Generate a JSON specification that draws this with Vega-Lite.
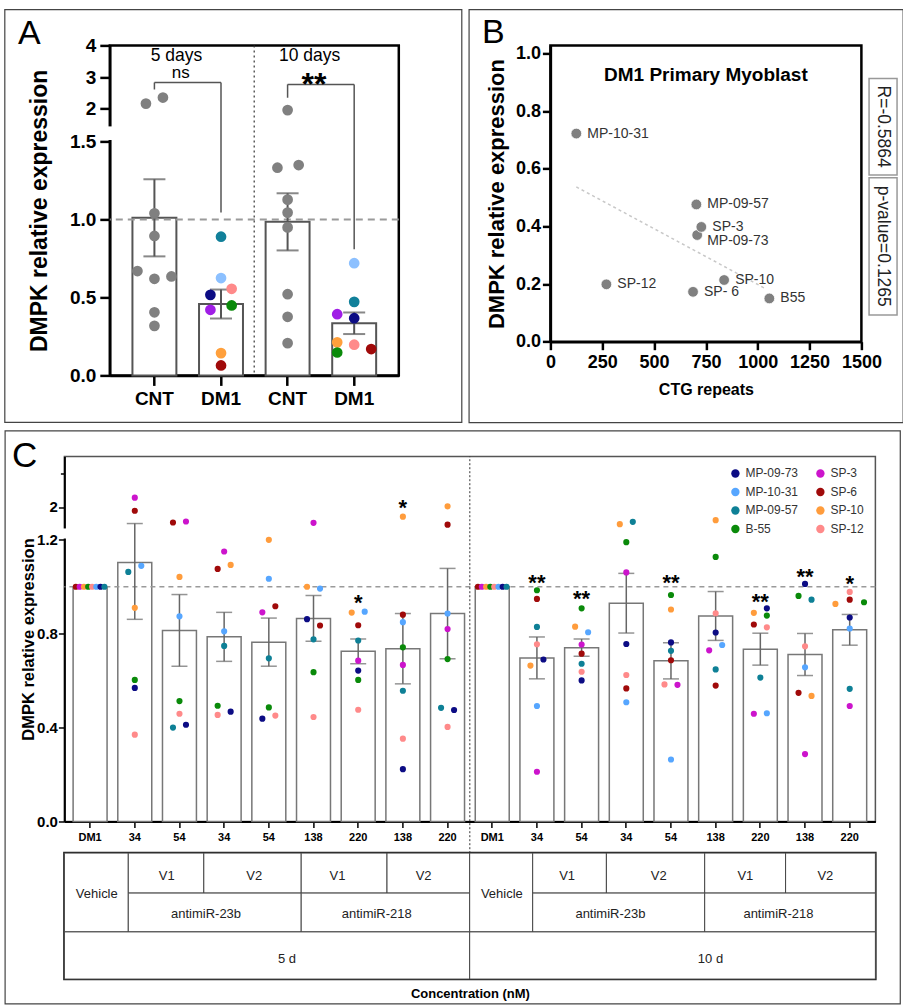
{
  "$schema": "https://vega.github.io/schema/vega-lite/v6.json",
  "background": "white",
  "padding": {"left": 2.4, "top": 7.4, "right": 1, "bottom": 1},
  "config": {
    "font": "Liberation Sans",
    "view": {"stroke": null},
    "axis": {"grid": false, "domainColor": "black", "tickColor": "black", "labelColor": "black", "titleColor": "black", "labelFont": "Liberation Sans", "titleFont": "Liberation Sans"},
    "title": {"font": "Liberation Sans", "fontWeight": "normal", "color": "black"},
    "legend": {"labelFont": "Liberation Sans"}
  },
  "datasets": {
    "aPts": [
      {"grp":"5-CNT","line":"CNT","val":2.165,"col":-1},
      {"grp":"5-CNT","line":"CNT","val":2.355,"col":1},
      {"grp":"5-CNT","line":"CNT","val":1.04,"col":0},
      {"grp":"5-CNT","line":"CNT","val":0.895,"col":0},
      {"grp":"5-CNT","line":"CNT","val":0.67,"col":-2},
      {"grp":"5-CNT","line":"CNT","val":0.62,"col":0},
      {"grp":"5-CNT","line":"CNT","val":0.635,"col":2},
      {"grp":"5-CNT","line":"CNT","val":0.405,"col":0},
      {"grp":"5-CNT","line":"CNT","val":0.318,"col":0},
      {"grp":"5-DM1","line":"MP-09-57","val":0.89,"col":0},
      {"grp":"5-DM1","line":"MP-10-31","val":0.625,"col":0},
      {"grp":"5-DM1","line":"SP-12","val":0.556,"col":1.25},
      {"grp":"5-DM1","line":"MP-09-73","val":0.517,"col":-1.25},
      {"grp":"5-DM1","line":"B-55","val":0.449,"col":1.25},
      {"grp":"5-DM1","line":"SP-3","val":0.421,"col":-1.25},
      {"grp":"5-DM1","line":"SP-10","val":0.143,"col":0},
      {"grp":"5-DM1","line":"SP-6","val":0.064,"col":0},
      {"grp":"10-CNT","line":"CNT","val":1.96,"col":0},
      {"grp":"10-CNT","line":"CNT","val":1.333,"col":-1.2},
      {"grp":"10-CNT","line":"CNT","val":1.35,"col":1.3},
      {"grp":"10-CNT","line":"CNT","val":1.128,"col":0},
      {"grp":"10-CNT","line":"CNT","val":1.045,"col":0},
      {"grp":"10-CNT","line":"CNT","val":0.95,"col":0},
      {"grp":"10-CNT","line":"CNT","val":0.521,"col":0},
      {"grp":"10-CNT","line":"CNT","val":0.376,"col":0},
      {"grp":"10-CNT","line":"CNT","val":0.207,"col":0},
      {"grp":"10-DM1","line":"MP-10-31","val":0.72,"col":0},
      {"grp":"10-DM1","line":"MP-09-57","val":0.472,"col":0},
      {"grp":"10-DM1","line":"SP-3","val":0.393,"col":-2},
      {"grp":"10-DM1","line":"MP-09-73","val":0.367,"col":0},
      {"grp":"10-DM1","line":"SP-10","val":0.212,"col":-2},
      {"grp":"10-DM1","line":"SP-12","val":0.197,"col":0},
      {"grp":"10-DM1","line":"B-55","val":0.147,"col":-2},
      {"grp":"10-DM1","line":"SP-6","val":0.169,"col":2}
    ],
    "aBr": [
      {"bx":"5-CNT","bx2":"5-CNT","by":2.61,"by2":2.83},
      {"bx":"5-CNT","bx2":"5-DM1","by":2.83,"by2":2.83},
      {"bx":"5-DM1","bx2":"5-DM1","by":1.045,"by2":2.83},
      {"bx":"10-CNT","bx2":"10-CNT","by":2.35,"by2":2.77},
      {"bx":"10-CNT","bx2":"10-DM1","by":2.77,"by2":2.77},
      {"bx":"10-DM1","bx2":"10-DM1","by":0.81,"by2":2.77}
    ],
    "aTxt": [
      {"tx":"5-CNT","ty":3.675,"t":"5 days","k":"day"},
      {"tx":"10-CNT","ty":3.675,"t":"10 days","k":"day"},
      {"tx":"5-CNT","ty":3.13,"t":"ns","k":"ns"},
      {"tx":"10-CNT","ty":3.0,"t":"**","k":"star"}
    ],
    "aFrame": [{"fx0": -0.3633, "fx1": 1.218, "fy0": -0.301, "fy1": 5.125}],
    "aGap": [{"gx0": -0.012, "gx1": 0.012, "gy0": 1.50001, "gy1": 1.50009}],
    "bPts": [
      {"cell":"MP-10-31","ctg":125,"expr":0.722,"lbl":"MP-10-31"},
      {"cell":"MP-09-57","ctg":704,"expr":0.476,"lbl":"MP-09-57"},
      {"cell":"MP-09-73","ctg":708,"expr":0.370,"lbl":"MP-09-73"},
      {"cell":"SP-3","ctg":728,"expr":0.398,"lbl":"SP-3"},
      {"cell":"SP-12","ctg":270,"expr":0.199,"lbl":"SP-12"},
      {"cell":"SP-6","ctg":688,"expr":0.173,"lbl":"SP- 6"},
      {"cell":"SP-10","ctg":838,"expr":0.214,"lbl":"SP-10"},
      {"cell":"B-55","ctg":1056,"expr":0.150,"lbl":"B55"}
    ],
    "bFit": [{"fx":125,"fy":0.537},{"fx":1040,"fy":0.183}],
    "bBox": [
      {"bx0":1537,"bx1":1672,"by0":0.578,"by1":0.913,"t":"R=-0.5864","tx":1605,"ty":0.746},
      {"bx0":1537,"bx1":1672,"by0":0.0926,"by1":0.569,"t":"p-value=0.1265","tx":1605,"ty":0.331}
    ],
    "bFrame": [{"x0": -392.2, "x1": 1701.4, "y0": -0.281, "y1": 1.1516}],
    "cFrame": [{"x0": -1.327, "x1": 18.707, "y0": -10.5575, "y1": 3.7675}],
    "cGap": [{"gx0": -0.004, "gx1": 0.004, "gy0": 1.20001, "gy1": 1.20009}],
    "cPts": [
      {"b":"5d DM1","l":"SP-6","v":1,"o":-2.2},{"b":"5d DM1","l":"SP-3","v":1,"o":-1.6},{"b":"5d DM1","l":"SP-10","v":1,"o":-0.95},{"b":"5d DM1","l":"B-55","v":1,"o":-0.3},{"b":"5d DM1","l":"SP-12","v":1,"o":0.3},{"b":"5d DM1","l":"MP-10-31","v":1,"o":0.95},{"b":"5d DM1","l":"MP-09-73","v":1,"o":1.6},{"b":"5d DM1","l":"MP-09-57","v":1,"o":2.2},
      {"b":"5d 23bV1 34","l":"SP-3","v":2.37,"o":0},{"b":"5d 23bV1 34","l":"SP-6","v":1.85,"o":0},{"b":"5d 23bV1 34","l":"MP-10-31","v":1.089,"o":1},{"b":"5d 23bV1 34","l":"MP-09-57","v":1.063,"o":-1},{"b":"5d 23bV1 34","l":"SP-10","v":0.91,"o":0},{"b":"5d 23bV1 34","l":"B-55","v":0.603,"o":0},{"b":"5d 23bV1 34","l":"MP-09-73","v":0.569,"o":0},{"b":"5d 23bV1 34","l":"SP-12","v":0.37,"o":0},
      {"b":"5d 23bV1 54","l":"SP-6","v":1.386,"o":-1},{"b":"5d 23bV1 54","l":"SP-3","v":1.426,"o":1},{"b":"5d 23bV1 54","l":"SP-10","v":1.042,"o":0},{"b":"5d 23bV1 54","l":"MP-10-31","v":0.874,"o":0},{"b":"5d 23bV1 54","l":"B-55","v":0.513,"o":0},{"b":"5d 23bV1 54","l":"SP-12","v":0.459,"o":0},{"b":"5d 23bV1 54","l":"MP-09-57","v":0.40,"o":-1},{"b":"5d 23bV1 54","l":"MP-09-73","v":0.412,"o":1},
      {"b":"5d 23bV2 34","l":"SP-3","v":1.15,"o":0},{"b":"5d 23bV2 34","l":"SP-6","v":1.076,"o":-1},{"b":"5d 23bV2 34","l":"SP-10","v":1.093,"o":1},{"b":"5d 23bV2 34","l":"MP-10-31","v":0.81,"o":0},{"b":"5d 23bV2 34","l":"MP-09-57","v":0.748,"o":0},{"b":"5d 23bV2 34","l":"B-55","v":0.493,"o":-1},{"b":"5d 23bV2 34","l":"SP-12","v":0.454,"o":-1},{"b":"5d 23bV2 34","l":"MP-09-73","v":0.468,"o":1},
      {"b":"5d 23bV2 54","l":"SP-10","v":1.2,"o":0},{"b":"5d 23bV2 54","l":"MP-10-31","v":1.034,"o":0},{"b":"5d 23bV2 54","l":"SP-6","v":0.917,"o":1},{"b":"5d 23bV2 54","l":"SP-3","v":0.891,"o":-1},{"b":"5d 23bV2 54","l":"MP-09-57","v":0.695,"o":0},{"b":"5d 23bV2 54","l":"B-55","v":0.486,"o":0},{"b":"5d 23bV2 54","l":"MP-09-73","v":0.438,"o":-1},{"b":"5d 23bV2 54","l":"SP-12","v":0.451,"o":1},
      {"b":"5d 218V1 138","l":"SP-3","v":1.374,"o":0},{"b":"5d 218V1 138","l":"SP-10","v":1.0,"o":-1},{"b":"5d 218V1 138","l":"MP-10-31","v":0.992,"o":1},{"b":"5d 218V1 138","l":"MP-09-73","v":0.862,"o":-1},{"b":"5d 218V1 138","l":"SP-6","v":0.835,"o":1},{"b":"5d 218V1 138","l":"MP-09-57","v":0.776,"o":0},{"b":"5d 218V1 138","l":"B-55","v":0.636,"o":0},{"b":"5d 218V1 138","l":"SP-12","v":0.445,"o":0},
      {"b":"5d 218V1 220","l":"SP-10","v":0.89,"o":-1},{"b":"5d 218V1 220","l":"MP-10-31","v":0.894,"o":1},{"b":"5d 218V1 220","l":"SP-6","v":0.836,"o":0},{"b":"5d 218V1 220","l":"MP-09-57","v":0.771,"o":0},{"b":"5d 218V1 220","l":"SP-3","v":0.685,"o":0},{"b":"5d 218V1 220","l":"MP-09-73","v":0.643,"o":0},{"b":"5d 218V1 220","l":"B-55","v":0.603,"o":0},{"b":"5d 218V1 220","l":"SP-12","v":0.476,"o":0},
      {"b":"5d 218V2 138","l":"SP-10","v":1.617,"o":0},{"b":"5d 218V2 138","l":"SP-6","v":0.881,"o":0},{"b":"5d 218V2 138","l":"MP-10-31","v":0.849,"o":0},{"b":"5d 218V2 138","l":"B-55","v":0.742,"o":0},{"b":"5d 218V2 138","l":"SP-3","v":0.667,"o":0},{"b":"5d 218V2 138","l":"MP-09-57","v":0.557,"o":0},{"b":"5d 218V2 138","l":"SP-12","v":0.353,"o":0},{"b":"5d 218V2 138","l":"MP-09-73","v":0.223,"o":0},
      {"b":"5d 218V2 220","l":"SP-10","v":2.025,"o":0},{"b":"5d 218V2 220","l":"SP-6","v":1.30,"o":0},{"b":"5d 218V2 220","l":"MP-10-31","v":0.886,"o":0},{"b":"5d 218V2 220","l":"SP-3","v":0.82,"o":0},{"b":"5d 218V2 220","l":"B-55","v":0.692,"o":0},{"b":"5d 218V2 220","l":"MP-09-57","v":0.484,"o":-1},{"b":"5d 218V2 220","l":"MP-09-73","v":0.475,"o":1},{"b":"5d 218V2 220","l":"SP-12","v":0.403,"o":0},
      {"b":"10d DM1","l":"SP-6","v":1,"o":-2.2},{"b":"10d DM1","l":"SP-3","v":1,"o":-1.6},{"b":"10d DM1","l":"SP-10","v":1,"o":-0.95},{"b":"10d DM1","l":"B-55","v":1,"o":-0.3},{"b":"10d DM1","l":"SP-12","v":1,"o":0.3},{"b":"10d DM1","l":"MP-10-31","v":1,"o":0.95},{"b":"10d DM1","l":"MP-09-73","v":1,"o":1.6},{"b":"10d DM1","l":"MP-09-57","v":1,"o":2.2},
      {"b":"10d 23bV1 34","l":"B-55","v":0.985,"o":0},{"b":"10d 23bV1 34","l":"SP-6","v":0.948,"o":0},{"b":"10d 23bV1 34","l":"MP-09-57","v":0.829,"o":0},{"b":"10d 23bV1 34","l":"SP-12","v":0.755,"o":0},{"b":"10d 23bV1 34","l":"MP-09-73","v":0.69,"o":1},{"b":"10d 23bV1 34","l":"SP-10","v":0.664,"o":-1},{"b":"10d 23bV1 34","l":"MP-10-31","v":0.492,"o":0},{"b":"10d 23bV1 34","l":"SP-3","v":0.212,"o":0},
      {"b":"10d 23bV1 54","l":"B-55","v":0.908,"o":0},{"b":"10d 23bV1 54","l":"SP-10","v":0.83,"o":-1},{"b":"10d 23bV1 54","l":"MP-10-31","v":0.806,"o":1},{"b":"10d 23bV1 54","l":"SP-3","v":0.754,"o":0},{"b":"10d 23bV1 54","l":"SP-6","v":0.715,"o":0},{"b":"10d 23bV1 54","l":"MP-09-57","v":0.672,"o":0},{"b":"10d 23bV1 54","l":"SP-12","v":0.638,"o":0},{"b":"10d 23bV1 54","l":"MP-09-73","v":0.601,"o":0},
      {"b":"10d 23bV2 34","l":"SP-10","v":1.319,"o":-1},{"b":"10d 23bV2 34","l":"MP-09-57","v":1.414,"o":1},{"b":"10d 23bV2 34","l":"B-55","v":1.19,"o":0},{"b":"10d 23bV2 34","l":"SP-3","v":1.061,"o":0},{"b":"10d 23bV2 34","l":"MP-09-73","v":0.756,"o":0},{"b":"10d 23bV2 34","l":"SP-12","v":0.624,"o":0},{"b":"10d 23bV2 34","l":"SP-6","v":0.567,"o":0},{"b":"10d 23bV2 34","l":"MP-10-31","v":0.508,"o":0},
      {"b":"10d 23bV2 54","l":"B-55","v":0.965,"o":0},{"b":"10d 23bV2 54","l":"SP-10","v":0.903,"o":0},{"b":"10d 23bV2 54","l":"MP-09-73","v":0.763,"o":0},{"b":"10d 23bV2 54","l":"MP-09-57","v":0.727,"o":0},{"b":"10d 23bV2 54","l":"SP-6","v":0.687,"o":0},{"b":"10d 23bV2 54","l":"SP-12","v":0.584,"o":-1},{"b":"10d 23bV2 54","l":"SP-3","v":0.582,"o":1},{"b":"10d 23bV2 54","l":"MP-10-31","v":0.264,"o":0},
      {"b":"10d 218V1 138","l":"SP-10","v":1.477,"o":0},{"b":"10d 218V1 138","l":"B-55","v":1.127,"o":0},{"b":"10d 218V1 138","l":"SP-12","v":0.887,"o":0},{"b":"10d 218V1 138","l":"MP-09-73","v":0.805,"o":0},{"b":"10d 218V1 138","l":"SP-3","v":0.729,"o":-1},{"b":"10d 218V1 138","l":"MP-10-31","v":0.752,"o":1},{"b":"10d 218V1 138","l":"MP-09-57","v":0.648,"o":0},{"b":"10d 218V1 138","l":"SP-6","v":0.579,"o":0},
      {"b":"10d 218V1 220","l":"SP-10","v":0.889,"o":-1},{"b":"10d 218V1 220","l":"MP-09-73","v":0.908,"o":1},{"b":"10d 218V1 220","l":"B-55","v":0.877,"o":1},{"b":"10d 218V1 220","l":"SP-6","v":0.839,"o":-1},{"b":"10d 218V1 220","l":"SP-12","v":0.827,"o":1},{"b":"10d 218V1 220","l":"MP-09-57","v":0.613,"o":0},{"b":"10d 218V1 220","l":"SP-3","v":0.459,"o":-1},{"b":"10d 218V1 220","l":"MP-10-31","v":0.461,"o":1},
      {"b":"10d 218V2 138","l":"MP-09-73","v":1.012,"o":0},{"b":"10d 218V2 138","l":"B-55","v":0.961,"o":-1},{"b":"10d 218V2 138","l":"MP-09-57","v":0.945,"o":1},{"b":"10d 218V2 138","l":"SP-12","v":0.746,"o":0},{"b":"10d 218V2 138","l":"MP-10-31","v":0.657,"o":0},{"b":"10d 218V2 138","l":"SP-6","v":0.548,"o":-1},{"b":"10d 218V2 138","l":"SP-10","v":0.535,"o":1},{"b":"10d 218V2 138","l":"SP-3","v":0.287,"o":0},
      {"b":"10d 218V2 220","l":"SP-12","v":0.978,"o":0},{"b":"10d 218V2 220","l":"SP-10","v":0.927,"o":-2.2},{"b":"10d 218V2 220","l":"SP-6","v":0.945,"o":0},{"b":"10d 218V2 220","l":"B-55","v":0.934,"o":2.2},{"b":"10d 218V2 220","l":"MP-09-73","v":0.869,"o":0},{"b":"10d 218V2 220","l":"MP-10-31","v":0.822,"o":0},{"b":"10d 218V2 220","l":"MP-09-57","v":0.565,"o":0},{"b":"10d 218V2 220","l":"SP-3","v":0.492,"o":0}
    ],
    "cStars": [
      {"b":"5d 218V1 220","sy":0.955,"txt":"*"},
      {"b":"5d 218V2 138","sy":2.17,"txt":"*"},
      {"b":"10d 23bV1 34","sy":1.038,"txt":"**"},
      {"b":"10d 23bV1 54","sy":0.972,"txt":"**"},
      {"b":"10d 23bV2 54","sy":1.038,"txt":"**"},
      {"b":"10d 218V1 220","sy":0.96,"txt":"**"},
      {"b":"10d 218V2 138","sy":1.066,"txt":"**"},
      {"b":"10d 218V2 220","sy":1.034,"txt":"*"}
    ],
    "tbl": [
      {"x0":0,"x1":1.43,"y0":0,"y1":1.97,"label":"Vehicle","xm":0.725,"ym":1.02},
      {"x0":1.43,"x1":3.12,"y0":0,"y1":1,"label":"V1","xm":2.29,"ym":0.57},
      {"x0":3.12,"x1":5.30,"y0":0,"y1":1,"label":"V2","xm":4.25,"ym":0.57},
      {"x0":5.30,"x1":7.22,"y0":0,"y1":1,"label":"V1","xm":6.11,"ym":0.57},
      {"x0":7.22,"x1":9.07,"y0":0,"y1":1,"label":"V2","xm":8.04,"ym":0.57},
      {"x0":1.43,"x1":5.30,"y0":1,"y1":1.97,"label":"antimiR-23b","xm":3.17,"ym":1.53},
      {"x0":5.30,"x1":9.07,"y0":1,"y1":1.97,"label":"antimiR-218","xm":6.99,"ym":1.53},
      {"x0":0,"x1":9.07,"y0":1.97,"y1":3.15,"label":"5 d","xm":4.98,"ym":2.64},
      {"x0":9.07,"x1":10.48,"y0":0,"y1":1.97,"label":"Vehicle","xm":9.79,"ym":1.02},
      {"x0":10.48,"x1":12.13,"y0":0,"y1":1,"label":"V1","xm":11.25,"ym":0.57},
      {"x0":12.13,"x1":14.33,"y0":0,"y1":1,"label":"V2","xm":13.30,"ym":0.57},
      {"x0":14.33,"x1":16.14,"y0":0,"y1":1,"label":"V1","xm":15.24,"ym":0.57},
      {"x0":16.14,"x1":18.15,"y0":0,"y1":1,"label":"V2","xm":17.03,"ym":0.57},
      {"x0":10.48,"x1":14.33,"y0":1,"y1":1.97,"label":"antimiR-23b","xm":12.22,"ym":1.53},
      {"x0":14.33,"x1":18.15,"y0":1,"y1":1.97,"label":"antimiR-218","xm":15.98,"ym":1.53},
      {"x0":9.07,"x1":18.15,"y0":1.97,"y1":3.15,"label":"10 d","xm":14.46,"ym":2.64}
    ]
  },
  "resolve": {"scale": {"color": "independent"}},
  "columns": 1,
  "align": "none",
  "spacing": 3.1,
  "concat": [
    {
      "columns": 2,
      "align": "none",
      "spacing": 2,
      "resolve": {"scale": {"color": "independent"}},
      "concat": [
        {
          "columns": 2,
          "align": "none",
          "spacing": -62.6,
          "resolve": {"scale": {"color": "independent"}},
          "concat": [
            {
              "width": 1, "height": 330,
              "title": {"text": "A", "anchor": "start", "frame": "group", "dx": -46.3, "offset": -32.3, "fontSize": 34, "baseline": "alphabetic"},
              "data": {"values": [{}]},
              "mark": {"type": "point", "opacity": 0, "size": 1},
              "encoding": {
                "y": {"datum": 0, "type": "quantitative", "scale": {"domain": [0, 1]},
                      "axis": {"title": "DMPK relative expression", "titleFontSize": 23, "titleFontWeight": "bold", "titlePadding": 12.8, "labels": false, "ticks": false, "domain": false}}
              }
            },
            {
              "width": 289, "height": 330,
              "view": {"stroke": "black", "strokeWidth": 2.5},
              "resolve": {"scale": {"x": "independent"}, "axis": {"x": "independent"}},
              "layer": [
                {
                  "resolve": {"scale": {"xOffset": "independent"}},
                  "layer": [
                    {
                      "data": {"name": "aPts"},
                      "mark": {"type": "bar", "fill": "white", "stroke": "#555", "strokeWidth": 2},
                      "encoding": {
                        "x": {"field": "grp", "type": "nominal", "title": null, "scale": {"domain": ["5-CNT","5-DM1","10-CNT","10-DM1"], "paddingInner": 0.34, "paddingOuter": 0.34},
                              "axis": {"title": null, "labelExpr": "split(datum.value, '-')[1]", "labelAngle": 0, "labelFontSize": 19, "labelFontWeight": "bold", "labelPadding": 4, "tickSize": 10, "tickWidth": 2.5, "domainWidth": 2.5}},
                        "y": {"aggregate": "mean", "field": "val", "type": "quantitative", "title": null,
                              "scale": {"domain": [0, 1.5, 1.5001, 4], "range": [330, 96.3, 79.3, 0], "nice": false, "zero": false},
                              "axis": {"title": null,
                                       "values": [0,0.25,0.5,0.75,1,1.25,1.5,1.5001,2,2.5,3,3.5,4],
                                       "labelExpr": "indexof([0,0.5,1,1.5], datum.value) >= 0 ? format(datum.value, '.1f') : (indexof([2,3,4], datum.value) >= 0 ? format(datum.value, 'd') : '')",
                                       "labelFontSize": 19, "labelFontWeight": "bold", "labelPadding": 4, "labelFlush": false, "labelOverlap": false,
                                       "tickSize": {"condition": {"test": "indexof([0,0.5,1,1.5,1.5001,2,3,4], datum.value) >= 0", "value": 10}, "value": 6},
                                       "tickWidth": 2.5, "domainWidth": 2.5}}
                      }
                    },
                    {
                      "data": {"values": [{}]},
                      "mark": {"type": "rule", "color": "#9a9a9a", "strokeDash": [7, 5], "strokeWidth": 2},
                      "encoding": {"y": {"datum": 1, "type": "quantitative", "title": null}}
                    },
                    {
                      "data": {"values": [{}]},
                      "mark": {"type": "rule", "color": "#333", "strokeDash": [2, 3], "strokeWidth": 1.2},
                      "encoding": {"x": {"datum": "10-CNT", "type": "nominal", "bandPosition": -0.26, "title": null}}
                    },
                    {
                      "data": {"name": "aPts"},
                      "mark": {"type": "errorbar", "extent": "stderr", "ticks": true, "size": 22, "thickness": 2, "color": "#555"},
                      "encoding": {"x": {"field": "grp", "type": "nominal", "title": null}, "y": {"field": "val", "type": "quantitative", "title": null}}
                    },
                    {
                      "data": {"name": "aPts"},
                      "mark": {"type": "circle", "size": 115, "opacity": 1},
                      "encoding": {
                        "x": {"field": "grp", "type": "nominal", "title": null},
                        "xOffset": {"field": "col", "type": "quantitative", "scale": {"domain": [-2, 2], "range": [5, 39]}},
                        "y": {"field": "val", "type": "quantitative", "title": null},
                        "color": {"field": "line", "type": "nominal", "legend": null,
                                  "scale": {"domain": ["CNT","MP-09-73","SP-3","MP-10-31","SP-6","MP-09-57","SP-10","B-55","SP-12"],
                                            "range": ["#808080","#0c0c84","#a01ee6","#8cc0ff","#a00a0a","#11809a","#ffa03c","#0a8a0a","#ff8a8a"]}}
                      }
                    },
                    {
                      "data": {"name": "aBr"},
                      "mark": {"type": "rule", "color": "#555", "strokeWidth": 1.5},
                      "encoding": {
                        "x": {"field": "bx", "type": "nominal", "title": null}, "x2": {"field": "bx2"},
                        "y": {"field": "by", "type": "quantitative", "title": null}, "y2": {"field": "by2"}
                      }
                    },
                    {
                      "data": {"name": "aTxt"},
                      "transform": [{"filter": "datum.k == 'day'"}],
                      "mark": {"type": "text", "fontSize": 17.5, "baseline": "middle", "color": "black"},
                      "encoding": {"x": {"field": "tx", "type": "nominal", "bandPosition": 1.0, "title": null}, "y": {"field": "ty", "type": "quantitative", "title": null}, "text": {"field": "t"}}
                    },
                    {
                      "data": {"name": "aTxt"},
                      "transform": [{"filter": "datum.k == 'ns'"}],
                      "mark": {"type": "text", "fontSize": 17, "baseline": "middle", "color": "black"},
                      "encoding": {"x": {"field": "tx", "type": "nominal", "bandPosition": 1.1, "title": null}, "y": {"field": "ty", "type": "quantitative", "title": null}, "text": {"field": "t"}}
                    },
                    {
                      "data": {"name": "aTxt"},
                      "transform": [{"filter": "datum.k == 'star'"}],
                      "mark": {"type": "text", "fontSize": 32, "fontWeight": "bold", "baseline": "alphabetic", "dy": 18, "color": "black"},
                      "encoding": {"x": {"field": "tx", "type": "nominal", "bandPosition": 1.1, "title": null}, "y": {"field": "ty", "type": "quantitative", "title": null}, "text": {"field": "t"}}
                    }
                  ]
                },
                {
                  "data": {"name": "aFrame"},
                  "mark": {"type": "rect", "filled": false, "stroke": "#444", "strokeWidth": 1.2},
                  "encoding": {
                    "x": {"field": "fx0", "type": "quantitative", "scale": {"domain": [0, 1], "nice": false, "zero": false}, "axis": null},
                    "x2": {"field": "fx1"},
                    "y": {"field": "fy0", "type": "quantitative", "title": null},
                    "y2": {"field": "fy1"}
                  }
                },
                {
                  "data": {"name": "aGap"},
                  "mark": {"type": "rect", "fill": "white", "strokeWidth": 0},
                  "encoding": {
                    "x": {"field": "gx0", "type": "quantitative", "scale": {"domain": [0, 1], "nice": false, "zero": false}, "axis": null},
                    "x2": {"field": "gx1"},
                    "y": {"field": "gy0", "type": "quantitative", "title": null},
                    "y2": {"field": "gy1"}
                  }
                }
              ]
            }
          ]
        },
        {
          "width": 311, "height": 296.3,
          "title": {"text": "B", "anchor": "start", "frame": "group", "dx": -68.5, "offset": -67.6, "fontSize": 34, "baseline": "alphabetic"},
          "view": {"stroke": "black", "strokeWidth": 2.5},
          "layer": [
            {
              "data": {"name": "bFit"},
              "mark": {"type": "line", "color": "#c8c8c8", "strokeDash": [3, 3], "strokeWidth": 1.5},
              "encoding": {
                "x": {"field": "fx", "type": "quantitative", "title": "CTG repeats", "scale": {"domain": [0, 1500], "nice": false, "zero": false},
                      "axis": {"title": "CTG repeats", "titleFontSize": 16, "titleFontWeight": "bold", "titlePadding": 10, "format": "d",
                               "values": [0,250,500,750,1000,1250,1500], "labelFontSize": 18, "labelFontWeight": "bold", "labelPadding": 4,
                               "labelFlush": false, "labelOverlap": false, "tickSize": 8, "tickWidth": 2.5, "domainWidth": 2.5}},
                "y": {"field": "fy", "type": "quantitative", "title": "DMPK relative expression", "scale": {"domain": [0, 1.0277], "nice": false, "zero": false},
                      "axis": {"title": "DMPK relative expression", "titleFontSize": 22, "titleFontWeight": "bold", "titlePadding": 6.5,
                               "values": [0,0.1,0.2,0.3,0.4,0.5,0.6,0.7,0.8,0.9,1],
                               "labelExpr": "round(datum.value*10) % 2 == 0 ? format(datum.value, '.1f') : ''",
                               "labelFontSize": 18, "labelFontWeight": "bold", "labelPadding": 2, "labelFlush": false, "labelOverlap": false,
                               "tickSize": {"condition": {"test": "round(datum.value*10) % 2 == 0", "value": 8}, "value": 5},
                               "tickWidth": 2.5, "domainWidth": 2.5}}
              }
            },
            {
              "data": {"name": "bPts"},
              "mark": {"type": "circle", "size": 115, "color": "#808080", "opacity": 1, "stroke": "white", "strokeWidth": 0.8},
              "encoding": {"x": {"field": "ctg", "type": "quantitative", "title": "CTG repeats"}, "y": {"field": "expr", "type": "quantitative", "title": "DMPK relative expression"}}
            },
            {
              "data": {"name": "bPts"},
              "transform": [{"filter": "datum.cell != 'MP-09-73'"}],
              "mark": {"type": "text", "align": "left", "baseline": "middle", "dx": 11, "fontSize": 14, "color": "#333"},
              "encoding": {"x": {"field": "ctg", "type": "quantitative", "title": "CTG repeats"}, "y": {"field": "expr", "type": "quantitative", "title": "DMPK relative expression"}, "text": {"field": "lbl"}}
            },
            {
              "data": {"name": "bPts"},
              "transform": [{"filter": "datum.cell == 'MP-09-73'"}],
              "mark": {"type": "text", "align": "left", "baseline": "middle", "dx": 10, "dy": 6, "fontSize": 14, "color": "#333"},
              "encoding": {"x": {"field": "ctg", "type": "quantitative", "title": "CTG repeats"}, "y": {"field": "expr", "type": "quantitative", "title": "DMPK relative expression"}, "text": {"field": "lbl"}}
            },
            {
              "data": {"values": [{}]},
              "mark": {"type": "text", "text": "DM1 Primary Myoblast", "fontSize": 19, "fontWeight": "bold", "baseline": "middle", "color": "black"},
              "encoding": {"x": {"datum": 750, "type": "quantitative", "title": "CTG repeats"}, "y": {"datum": 0.926, "type": "quantitative", "title": "DMPK relative expression"}}
            },
            {
              "data": {"name": "bBox"},
              "mark": {"type": "rect", "fill": "white", "stroke": "#999", "strokeWidth": 1.5},
              "encoding": {"x": {"field": "bx0", "type": "quantitative", "title": "CTG repeats"}, "x2": {"field": "bx1"}, "y": {"field": "by0", "type": "quantitative", "title": "DMPK relative expression"}, "y2": {"field": "by1"}}
            },
            {
              "data": {"name": "bBox"},
              "mark": {"type": "text", "angle": 90, "fontSize": 17.5, "baseline": "middle", "align": "center", "color": "#222"},
              "encoding": {"x": {"field": "tx", "type": "quantitative", "title": "CTG repeats"}, "y": {"field": "ty", "type": "quantitative", "title": "DMPK relative expression"}, "text": {"field": "t"}}
            },
            {
              "data": {"name": "bFrame"},
              "mark": {"type": "rect", "filled": false, "stroke": "#444", "strokeWidth": 1.2},
              "encoding": {"x": {"field": "x0", "type": "quantitative", "title": "CTG repeats"}, "x2": {"field": "x1"}, "y": {"field": "y0", "type": "quantitative", "title": "DMPK relative expression"}, "y2": {"field": "y1"}}
            }
          ]
        }
      ]
    },
    {
      "spacing": 31.6,
      "bounds": "flush",
      "resolve": {"scale": {"color": "independent"}},
      "vconcat": [
        {
          "width": 811, "height": 365,
          "title": {"text": "C", "anchor": "start", "frame": "group", "dx": -52.3, "offset": -46, "fontSize": 35, "baseline": "alphabetic"},
          "view": {"stroke": "#555", "strokeWidth": 1.5},
          "resolve": {"scale": {"x": "independent"}, "axis": {"x": "independent"}},
          "layer": [
            {
              "resolve": {"scale": {"xOffset": "independent"}},
              "layer": [
                {
                  "data": {"name": "cPts"},
                  "mark": {"type": "bar", "fill": "white", "stroke": "#777", "strokeWidth": 1.5},
                  "encoding": {
                    "x": {"field": "b", "type": "nominal", "title": null,
                          "scale": {"domain": ["5d DM1","5d 23bV1 34","5d 23bV1 54","5d 23bV2 34","5d 23bV2 54","5d 218V1 138","5d 218V1 220","5d 218V2 138","5d 218V2 220","10d DM1","10d 23bV1 34","10d 23bV1 54","10d 23bV2 34","10d 23bV2 54","10d 218V1 138","10d 218V1 220","10d 218V2 138","10d 218V2 220"], "paddingInner": 0.24, "paddingOuter": 0.195},
                          "axis": {"title": null, "labelExpr": "peek(split(datum.value, ' '))", "labelAngle": 0, "labelFontSize": 11, "labelFontWeight": "bold", "labelPadding": 4, "tickSize": 6, "tickWidth": 1.5, "domainWidth": 2}},
                    "y": {"aggregate": "mean", "field": "v", "type": "quantitative", "title": "DMPK relative expression",
                          "scale": {"domain": [0, 1.2, 1.2001, 4], "range": [365, 83.3, 70.7, 0], "nice": false, "zero": false},
                          "axis": {"title": "DMPK relative expression", "titleFontSize": 16.5, "titleFontWeight": "bold", "titlePadding": 0,
                                   "values": [0,0.1,0.2,0.3,0.4,0.5,0.6,0.7,0.8,0.9,1,1.1,1.2,1.2001,1.3333,1.6667,2,2.3333,2.6667,3,3.3333,3.6667,4],
                                   "labelExpr": "indexof([0,0.2,0.4,0.6,0.8,1,1.2], datum.value) >= 0 ? format(datum.value, '.1f') : (indexof([2,3,4], datum.value) >= 0 ? format(datum.value, 'd') : '')",
                                   "labelFontSize": 15, "labelFontWeight": "bold", "labelPadding": 1, "labelFlush": false, "labelOverlap": false,
                                   "tickSize": {"condition": {"test": "indexof([0,0.2,0.4,0.6,0.8,1,1.2,1.2001,2,3,4], datum.value) >= 0", "value": 6}, "value": 4},
                                   "tickWidth": 1.5, "domainWidth": 2}}
                  }
                },
                {
                  "data": {"values": [{}]},
                  "mark": {"type": "rule", "color": "#9a9a9a", "strokeDash": [5, 4], "strokeWidth": 1.5},
                  "encoding": {"y": {"datum": 1, "type": "quantitative", "title": "DMPK relative expression"}}
                },
                {
                  "data": {"values": [{}]},
                  "mark": {"type": "rule", "color": "#333", "strokeDash": [2, 2], "strokeWidth": 1},
                  "encoding": {"x": {"datum": "10d DM1", "type": "nominal", "bandPosition": -0.16, "title": null}, "y": {"datum": -0.135, "type": "quantitative", "title": "DMPK relative expression"}, "y2": {"datum": 4}}
                },
                {
                  "data": {"name": "cPts"},
                  "mark": {"type": "errorbar", "extent": "stderr", "ticks": true, "size": 16, "thickness": 1.5, "color": "#666"},
                  "encoding": {"x": {"field": "b", "type": "nominal", "title": null}, "y": {"field": "v", "type": "quantitative", "title": "DMPK relative expression"}}
                },
                {
                  "data": {"name": "cPts"},
                  "mark": {"type": "circle", "size": 38, "opacity": 1},
                  "encoding": {
                    "x": {"field": "b", "type": "nominal", "title": null},
                    "xOffset": {"field": "o", "type": "quantitative", "scale": {"domain": [-1, 1], "range": [10.5, 23.5]}},
                    "y": {"field": "v", "type": "quantitative", "title": "DMPK relative expression"},
                    "color": {"field": "l", "type": "nominal",
                              "scale": {"domain": ["MP-09-73","MP-10-31","MP-09-57","B-55","SP-3","SP-6","SP-10","SP-12"],
                                        "range": ["#0c0c84","#56a6ff","#0e8096","#0a8a0a","#cc14cc","#a00a0a","#ff9c3c","#ff8a8a"]},
                              "legend": {"title": null, "orient": "top-right", "columns": 2, "offset": 11, "symbolType": "circle", "symbolSize": 70,
                                         "labelFontSize": 12, "labelColor": "#333", "rowPadding": 6.5, "columnPadding": 16, "symbolStrokeWidth": 0}}
                  }
                },
                {
                  "data": {"name": "cStars"},
                  "mark": {"type": "text", "fontSize": 22, "fontWeight": "bold", "baseline": "alphabetic", "dy": 12.5, "color": "black"},
                  "encoding": {"x": {"field": "b", "type": "nominal", "title": null}, "y": {"field": "sy", "type": "quantitative", "title": "DMPK relative expression"}, "text": {"field": "txt"}}
                }
              ]
            },
            {
              "data": {"name": "cGap"},
              "mark": {"type": "rect", "fill": "white", "strokeWidth": 0},
              "encoding": {
                "x": {"field": "gx0", "type": "quantitative", "scale": {"domain": [0, 1], "nice": false, "zero": false}, "axis": null},
                "x2": {"field": "gx1"},
                "y": {"field": "gy0", "type": "quantitative", "title": "DMPK relative expression"},
                "y2": {"field": "gy1"}
              }
            }
          ]
        },
        {
          "width": 811, "height": 126,
          "view": {"stroke": "#222", "strokeWidth": 2.5},
          "layer": [
            {
              "data": {"name": "tbl"},
              "mark": {"type": "rect", "fill": "white", "stroke": "#444", "strokeWidth": 1},
              "encoding": {
                "x": {"field": "x0", "type": "quantitative", "scale": {"domain": [0, 18.15], "nice": false, "zero": false},
                      "axis": {"title": "Concentration (nM)", "titleFontSize": 13, "titleFontWeight": "bold", "titlePadding": 8, "labels": false, "ticks": false, "domain": false}},
                "x2": {"field": "x1"},
                "y": {"field": "y0", "type": "quantitative", "scale": {"domain": [0, 3.15], "reverse": true, "nice": false, "zero": false}, "axis": null},
                "y2": {"field": "y1"}
              }
            },
            {
              "data": {"name": "tbl"},
              "mark": {"type": "text", "fontSize": 13, "font": "Liberation Sans Narrow, Liberation Sans, sans-serif", "color": "#222", "baseline": "middle", "align": "center"},
              "encoding": {"x": {"field": "xm", "type": "quantitative", "title": "Concentration (nM)"}, "y": {"field": "ym", "type": "quantitative"}, "text": {"field": "label"}}
            },
            {
              "data": {"name": "cFrame"},
              "mark": {"type": "rect", "filled": false, "stroke": "#444", "strokeWidth": 1.2},
              "encoding": {"x": {"field": "x0", "type": "quantitative", "title": "Concentration (nM)"}, "x2": {"field": "x1"}, "y": {"field": "y0", "type": "quantitative"}, "y2": {"field": "y1"}}
            }
          ]
        }
      ]
    }
  ]
}
